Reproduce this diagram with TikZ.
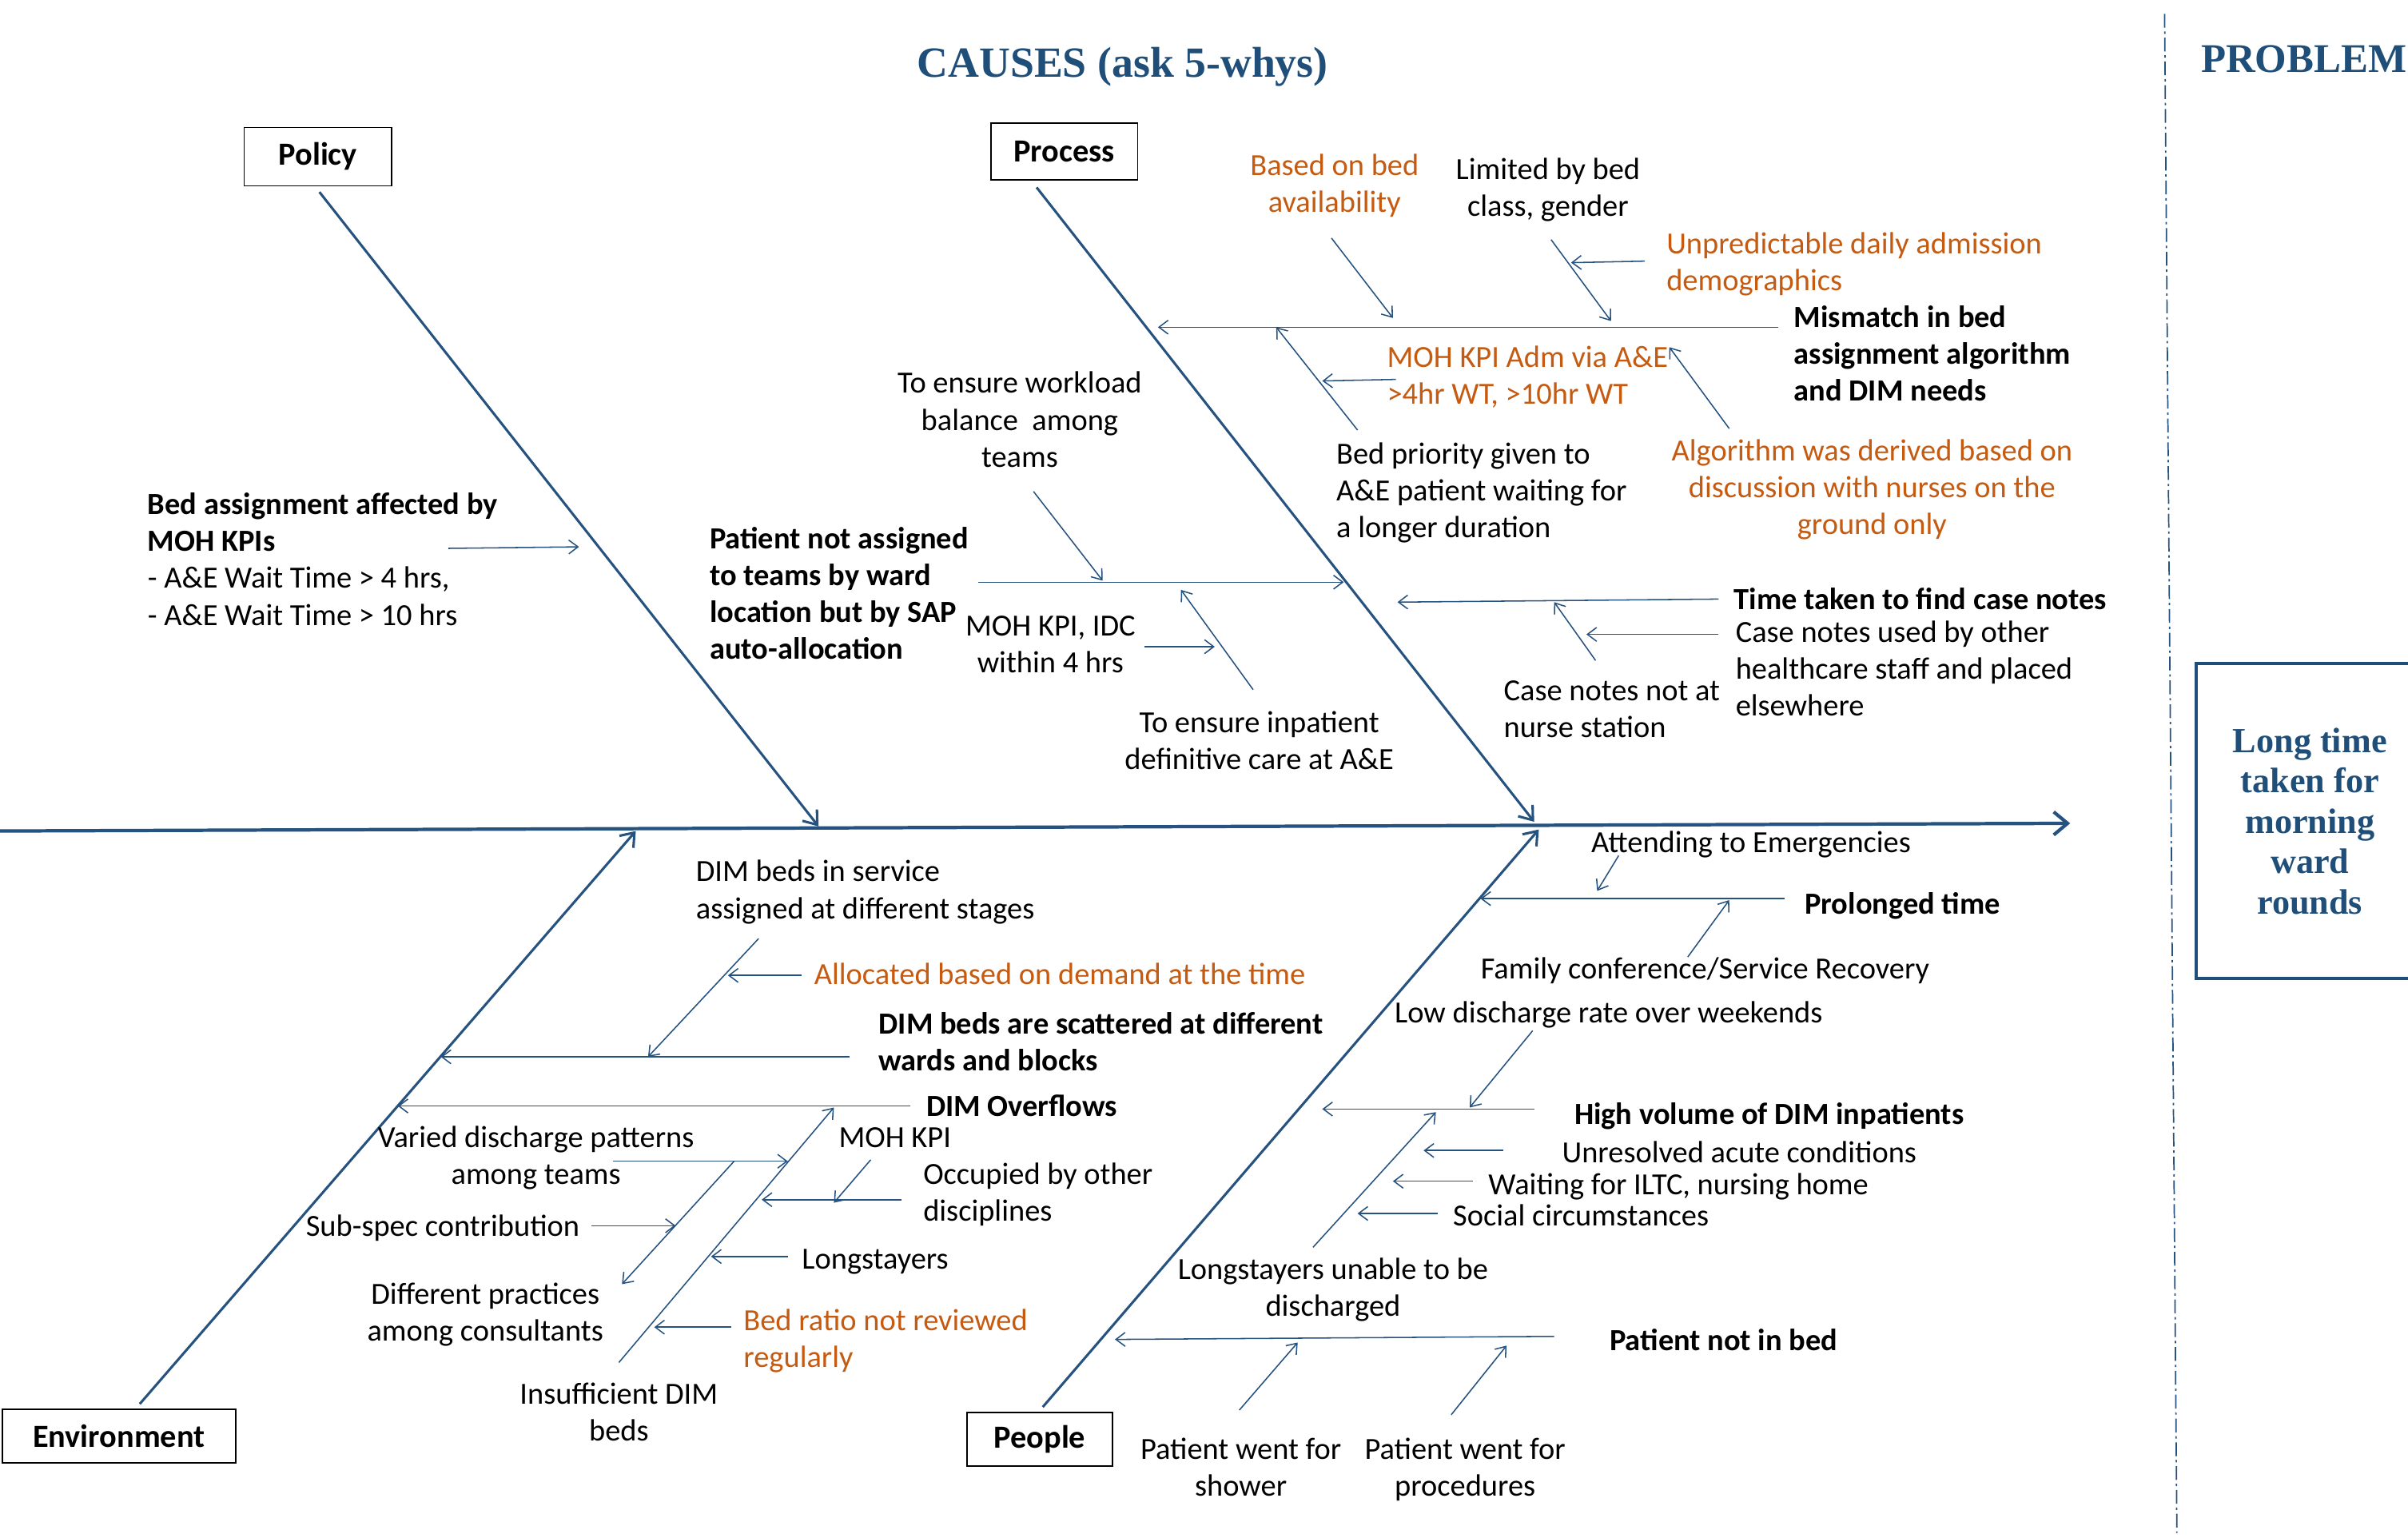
\documentclass[tikz,border=0pt]{standalone}
\usepackage{fontspec}
\setmainfont{Carlito}
\newfontfamily\capfont{Liberation Serif}
\usetikzlibrary{arrows.meta}
\definecolor{lnblue}{RGB}{38,82,128}
\definecolor{txblue}{RGB}{31,78,121}
\definecolor{txorange}{RGB}{197,90,17}
\tikzset{
  every node/.style={font=\fontsize{20}{24}\selectfont, inner sep=0pt},
  lt/.style={anchor=base west, align=left},
  ct/.style={anchor=base, align=center},
  bt/.style={font=\fontsize{20}{24}\selectfont\bfseries},
  ot/.style={text=txorange},
  catbox/.style={draw=black, line width=1pt, fill=white, font=\fontsize{21}{24}\selectfont\bfseries},
  sarr/.style={draw=lnblue, line width=0.8pt, -{Straight Barb[length=6pt,width=9pt]}},
  bone/.style={draw=lnblue, line width=1.6pt, -{Straight Barb[length=8pt,width=12pt]}},
  spine/.style={draw=lnblue, line width=2.2pt, -{Straight Barb[length=9pt,width=15pt]}},
  sepline/.style={draw=lnblue, line width=0.9pt, dash pattern=on 9pt off 2.5pt on 1.5pt off 2.5pt},
}
\begin{document}
\begin{tikzpicture}[x=1pt,y=-1pt]
\useasboundingbox (0,0) rectangle (1568,1001);

% ---------- titles ----------
\node[anchor=base, font=\fontsize{28}{30}\capfont\bfseries, text=txblue] (title) at (731,50) {CAUSES (ask 5-whys)};
\node[anchor=base west, font=\fontsize{26.5}{30}\capfont\bfseries, text=txblue] (probtitle) at (1433,47) {PROBLEM};
\coordinate (sepA) at (1409.5,9);
\coordinate (sepB) at (1417.5,998);
\draw[sepline] (sepA) -- (sepB);
\node[draw=txblue, line width=2.2pt, minimum width=148pt, minimum height=205pt, anchor=north west,
      align=center, text=txblue, font=\fontsize{23}{26.3}\capfont\bfseries] (problem) at (1429,431)
      {Long time\\taken for\\morning\\ward\\rounds};

% ---------- spine and bones ----------
\coordinate (spS) at (0,541);
\coordinate (spE) at (1348,536);
\draw[spine] (spS) -- (spE);

\node[catbox, minimum width=96pt, minimum height=38pt] (policy) at (207,102) {Policy};
\node[catbox, minimum width=95.6pt, minimum height=37pt] (process) at (693,98.6) {Process};
\node[catbox, minimum width=152pt, minimum height=35pt] (environment) at (77.4,935) {Environment};
\node[catbox, minimum width=95pt, minimum height=35pt] (people) at (677,937) {People};

\coordinate (b1s) at (208,125);   \coordinate (b1e) at (533,538);
\coordinate (b2s) at (675,122);   \coordinate (b2e) at (999,535);
\coordinate (b3s) at (91,914);    \coordinate (b3e) at (414,541);
\coordinate (b4s) at (679,916);   \coordinate (b4e) at (1002,540);
\draw[bone] (b1s) -- (b1e);
\draw[bone] (b2s) -- (b2e);
\draw[bone] (b3s) -- (b3e);
\draw[bone] (b4s) -- (b4e);

% ---------- Policy ----------
\node[lt] (t1) at (96,407) {{\bfseries Bed assignment affected by}\\{\bfseries MOH KPIs}\\- A\&E Wait Time > 4 hrs,\\- A\&E Wait Time > 10 hrs};
\coordinate (a1s) at (292,357); \coordinate (a1e) at (377,356);
\draw[sarr] (a1s) -- (a1e);

% ---------- Process lower ----------
\node[lt, bt] (t2) at (462,429) {Patient not assigned\\to teams by ward\\location but by SAP\\auto-allocation};
\node[ct] (t3) at (664,304) {To ensure workload\\balance \ among\\teams};
\node[ct] (t4) at (684,438) {MOH KPI, IDC\\within 4 hrs};
\node[ct] (t5) at (820,501) {To ensure inpatient\\definitive care at A\&E};
\coordinate (a2s) at (637,379); \coordinate (a2e) at (875,379);
\coordinate (a3s) at (673,320); \coordinate (a3e) at (718,378);
\coordinate (a4s) at (745,421); \coordinate (a4e) at (791,421);
\coordinate (a5s) at (816,449); \coordinate (a5e) at (769,384);
\draw[sarr] (a2s) -- (a2e);
\draw[sarr] (a3s) -- (a3e);
\draw[sarr] (a4s) -- (a4e);
\draw[sarr] (a5s) -- (a5e);

% ---------- Process upper ----------
\node[ct, ot] (t6) at (869,138) {Based on bed\\availability};
\node[ct] (t7) at (1008,141) {Limited by bed\\class, gender};
\node[lt, ot] (t8) at (1085,189) {Unpredictable daily admission\\demographics};
\node[lt, bt] (t9) at (1168,261) {Mismatch in bed\\assignment algorithm\\and DIM needs};
\node[lt, ot] (t10) at (903,263) {MOH KPI Adm via A\&E\\>4hr WT, >10hr WT};
\node[lt] (t11) at (870,350) {Bed priority given to\\A\&E patient waiting for\\a longer duration};
\node[ct, ot] (t12) at (1219,348) {Algorithm was derived based on\\discussion with nurses on the\\ground only};
\coordinate (a6s) at (1158,213);  \coordinate (a6e) at (754,213);
\coordinate (a7s) at (867,155);   \coordinate (a7e) at (907,207);
\coordinate (a8s) at (1010,156);  \coordinate (a8e) at (1049,209);
\coordinate (a9s) at (1071,170);  \coordinate (a9e) at (1023,171);
\coordinate (a10s) at (884,280);  \coordinate (a10e) at (831,213);
\coordinate (a11s) at (909,247);  \coordinate (a11e) at (861,248);
\coordinate (a12s) at (1126,279); \coordinate (a12e) at (1087,226);
\draw[sarr] (a6s) -- (a6e);
\draw[sarr] (a7s) -- (a7e);
\draw[sarr] (a8s) -- (a8e);
\draw[sarr] (a9s) -- (a9e);
\draw[sarr] (a10s) -- (a10e);
\draw[sarr] (a11s) -- (a11e);
\draw[sarr] (a12s) -- (a12e);

% ---------- Time taken ----------
\node[lt, bt] (t13) at (1129,397) {Time taken to find case notes};
\node[lt] (t14) at (1130,466) {Case notes used by other\\healthcare staff and placed\\elsewhere};
\node[lt] (t15) at (979,480) {Case notes not at\\nurse station};
\coordinate (a13s) at (1119,390); \coordinate (a13e) at (910,392);
\coordinate (a14s) at (1039,430); \coordinate (a14e) at (1012,392);
\coordinate (a15s) at (1119,413); \coordinate (a15e) at (1033,413);
\draw[sarr] (a13s) -- (a13e);
\draw[sarr] (a14s) -- (a14e);
\draw[sarr] (a15s) -- (a15e);

% ---------- Environment ----------
\node[lt] (t16) at (453,598) {DIM beds in service\\assigned at different stages};
\node[lt, ot] (t17) at (530,641) {Allocated based on demand at the time};
\node[lt, bt] (t18) at (572,697) {DIM beds are scattered at different\\wards and blocks};
\node[lt, bt] (t19) at (603,727) {DIM Overflows};
\node[ct] (t20) at (349,771) {Varied discharge patterns\\among teams};
\node[lt] (t21) at (199,805) {Sub-spec contribution};
\node[ct] (t22) at (316,873) {Different practices\\among consultants};
\node[ct] (t23) at (403,938) {Insufficient DIM\\beds};
\node[lt] (t24) at (546,747) {MOH KPI};
\node[lt] (t25) at (601,795) {Occupied by other\\disciplines};
\node[lt] (t26) at (522,826) {Longstayers};
\node[lt, ot] (t27) at (484,890) {Bed ratio not reviewed\\regularly};
\coordinate (a16s) at (494,611); \coordinate (a16e) at (422,688);
\coordinate (a17s) at (522,635); \coordinate (a17e) at (474,635);
\coordinate (a18s) at (553,688); \coordinate (a18e) at (287,688);
\coordinate (a19s) at (593,720); \coordinate (a19e) at (259,720);
\coordinate (a20s) at (399,756); \coordinate (a20e) at (513,756);
\coordinate (a21s) at (385,798); \coordinate (a21e) at (440,798);
\coordinate (a22s) at (478,756); \coordinate (a22e) at (405,836);
\coordinate (a23s) at (403,887); \coordinate (a23e) at (543,721);
\coordinate (a24s) at (567,755); \coordinate (a24e) at (543,783);
\coordinate (a25s) at (587,781); \coordinate (a25e) at (496,781);
\coordinate (a26s) at (513,818); \coordinate (a26e) at (463,818);
\coordinate (a27s) at (476,864); \coordinate (a27e) at (426,864);
\draw[sarr] (a16s) -- (a16e);
\draw[sarr] (a17s) -- (a17e);
\draw[sarr] (a18s) -- (a18e);
\draw[sarr] (a19s) -- (a19e);
\draw[sarr] (a20s) -- (a20e);
\draw[sarr] (a21s) -- (a21e);
\draw[sarr] (a22s) -- (a22e);
\draw[sarr] (a23s) -- (a23e);
\draw[sarr] (a24s) -- (a24e);
\draw[sarr] (a25s) -- (a25e);
\draw[sarr] (a26s) -- (a26e);
\draw[sarr] (a27s) -- (a27e);

% ---------- People ----------
\node[lt] (t28) at (1036,555) {Attending to Emergencies};
\node[lt, bt] (t29) at (1175,595) {Prolonged time};
\node[lt] (t30) at (964,637) {Family conference/Service Recovery};
\node[lt] (t31) at (908,666) {Low discharge rate over weekends};
\node[lt, bt] (t32) at (1025,732) {High volume of DIM inpatients};
\node[lt] (t33) at (1017,757) {Unresolved acute conditions};
\node[lt] (t34) at (969,778) {Waiting for ILTC, nursing home};
\node[lt] (t35) at (946,798) {Social circumstances};
\node[ct] (t36) at (868,857) {Longstayers unable to be\\discharged};
\node[lt, bt] (t37) at (1048,879) {Patient not in bed};
\node[ct] (t38) at (808,974) {Patient went for\\shower};
\node[ct] (t39) at (954,974) {Patient went for\\procedures};
\coordinate (a28s) at (1054,557); \coordinate (a28e) at (1040,580);
\coordinate (a29s) at (1162,585); \coordinate (a29e) at (964,585);
\coordinate (a30s) at (1099,623); \coordinate (a30e) at (1126,586);
\coordinate (a31s) at (998,671);  \coordinate (a31e) at (957,721);
\coordinate (a32s) at (999,722);  \coordinate (a32e) at (861,722);
\coordinate (a33s) at (855,812);  \coordinate (a33e) at (935,724);
\coordinate (a34s) at (979,749);  \coordinate (a34e) at (927,749);
\coordinate (a35s) at (959,769);  \coordinate (a35e) at (907,769);
\coordinate (a36s) at (936,790);  \coordinate (a36e) at (884,790);
\coordinate (a37s) at (1012,870); \coordinate (a37e) at (726,872);
\coordinate (a38s) at (807,918);  \coordinate (a38e) at (845,874);
\coordinate (a39s) at (945,921);  \coordinate (a39e) at (981,876);
\draw[sarr] (a28s) -- (a28e);
\draw[sarr] (a29s) -- (a29e);
\draw[sarr] (a30s) -- (a30e);
\draw[sarr] (a31s) -- (a31e);
\draw[sarr] (a32s) -- (a32e);
\draw[sarr] (a33s) -- (a33e);
\draw[sarr] (a34s) -- (a34e);
\draw[sarr] (a35s) -- (a35e);
\draw[sarr] (a36s) -- (a36e);
\draw[sarr] (a37s) -- (a37e);
\draw[sarr] (a38s) -- (a38e);
\draw[sarr] (a39s) -- (a39e);
\end{tikzpicture}
\end{document}
